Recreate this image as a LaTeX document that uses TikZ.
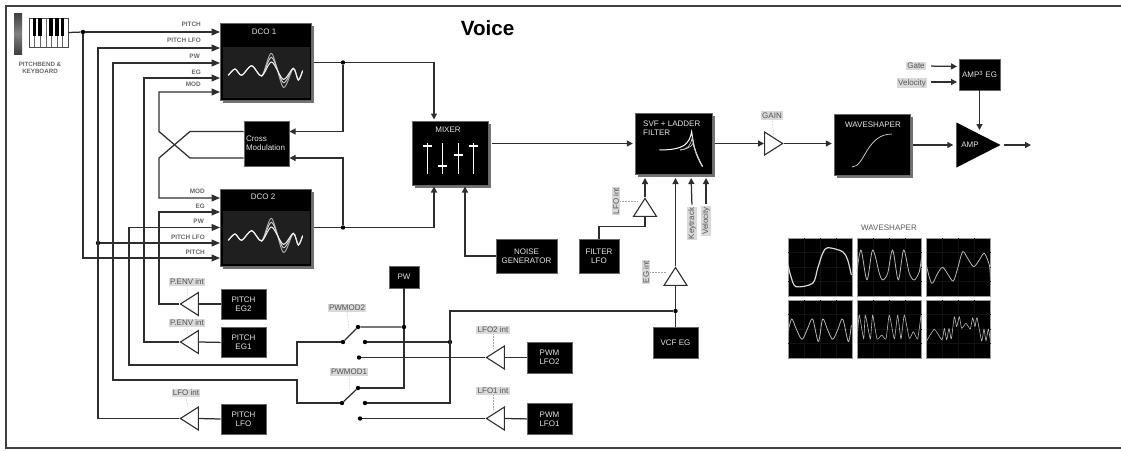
\documentclass[tikz,border=0pt]{standalone}
\usepackage{fontspec}
\setmainfont{Liberation Sans}
\usepackage{xcolor}
\usetikzlibrary{shapes.geometric, arrows.meta, positioning, shadows}
\definecolor{wirecol}{gray}{0.18}
\definecolor{tagcol}{gray}{0.85}
\definecolor{tagtext}{gray}{0.33}
\newcommand{\blockfont}{\fontsize{8}{9.2}\selectfont}
\tikzstyle{wire} = [line width=1.25pt, draw=wirecol, line join=miter]
\tikzstyle{arrow} = [wire, -{Triangle[length=6pt, width=6pt]}]
\tikzstyle{bigarrow} = [wire, -{Triangle[length=8.5pt, width=7pt]}]
\tikzstyle{leader} = [densely dotted, line width=.5pt, draw=black!35]
\tikzstyle{dot} = [circle, fill=black, inner sep=0pt, minimum size=4.4pt]
\tikzstyle{blackbox} = [fill=black, draw=black!60, line width=.4pt, inner sep=0pt, text=white!90!black, align=center, font=\blockfont]
\tikzstyle{bigbox} = [blackbox, drop shadow={shadow xshift=3pt, shadow yshift=-3pt, fill=black!55, opacity=1}]
\tikzstyle{tag} = [fill=tagcol, text=tagtext, inner sep=1.2pt, font=\fontsize{8}{9}\selectfont]
\tikzstyle{pin} = [text=black!60, inner sep=0pt, anchor=east, font=\fontsize{6.4}{7}\selectfont\bfseries]
\tikzstyle{tri} = [draw=wirecol, fill=white, line width=1.1pt, isosceles triangle, isosceles triangle stretches, inner sep=0pt, minimum width=23pt, minimum height=18pt]
\tikzstyle{scopebox} = [fill=black, draw=black!40, line width=.8pt, inner sep=0pt, minimum width=64pt, minimum height=58pt]
\tikzstyle{trace} = [draw=white!72!black, line width=.8pt, line join=round]
\newcommand{\oscWaves}[1]{%
  \begin{scope}[shift={(0,#1)}, x=0.3333pt, y=-0.3333pt]
    \foreach \pk/\tr/\col in {160/262/white!65!black, 172/248/white!80!black, 186/238/white!95!black}
      \draw [line width=1pt, draw=\col] plot [smooth] coordinates {(685,226) (705,207) (725,226) (755,197) (785,228) (815,\pk) (850,\tr) (880,205) (895,240) (908,212)};
  \end{scope}}

\begin{document}
\begin{tikzpicture}[x=1pt, y=-1pt]
\useasboundingbox (0,0) rectangle (1121,450);
\draw [line width=1.1pt, draw=black!75] (1121,6) -- (6,6) -- (6,448) -- (1121,448);

\node (voice) [inner sep=0pt, font=\fontsize{20.6}{22}\selectfont\bfseries] at (487.5,28) {Voice};

% Keyboard
\node (wheel) [top color=black!75, bottom color=black!75, middle color=black!50, inner sep=0pt, minimum width=8pt, minimum height=41pt] at (18,33.5) {};
\node (keys) [draw=black!70, fill=white, line width=.6pt, inner sep=0pt, minimum width=39pt, minimum height=29pt] at (48.5,32.5) {};
\foreach \i in {1,...,6}
  \draw [line width=.4pt, draw=black!60] (29+5.57*\i,18) -- (29+5.57*\i,47);
\foreach \i in {1,2,4,5,6}
  \fill [black] (29+5.57*\i-1.9,18) rectangle (29+5.57*\i+1.9,36);
\node (keysLabel) [align=center, inner sep=0pt, text=black!60, font=\fontsize{6.2}{7.6}\selectfont\bfseries] at (40,68) {PITCHBEND \&\\KEYBOARD};

% Oscillators
\node (dcoOne) [bigbox, minimum width=91pt, minimum height=77pt] at (265.5,61.5) {};
\node (dcoTwo) [bigbox, minimum width=91pt, minimum height=77pt] at (265.5,227.5) {};
\fill [black!88] (223,47) rectangle (310,98);
\fill [black!88] (223,211) rectangle (310,264);
\node (dcoOneName) [text=white!90!black, inner sep=0pt, font=\blockfont] at (264,32) {DCO 1};
\node (dcoTwoName) [text=white!90!black, inner sep=0pt, font=\blockfont] at (263,197) {DCO 2};
\oscWaves{0}
\oscWaves{165}

\node (crossMod) [blackbox, align=left, minimum width=45.5pt, minimum height=45pt, text width=41pt] at (266.5,143.5) {Cross\\Modulation};

% Mixer
\node (mixer) [bigbox, minimum width=76pt, minimum height=64pt] at (450,153) {};
\node (mixerName) [text=white!90!black, inner sep=0pt, font=\blockfont] at (448,130) {MIXER};
\foreach \x/\k in {427/146, 442/166, 458/155, 473/146} {
  \draw [white, line width=.8pt] (\x,143) -- (\x,174);
  \draw [white, line width=1.1pt] (\x-4.5,\k) -- (\x+4.5,\k);
}

% Filter and output stage
\node (filter) [bigbox, minimum width=77pt, minimum height=61pt] at (673.5,143.5) {};
\node (filterName) [text=white!90!black, align=left, inner sep=0pt, anchor=north west, font=\blockfont] at (643,120.5) {SVF + LADDER\\FILTER};
\begin{scope}[shift={(560,100)}, x=0.3333pt, y=-0.3333pt]
  \draw [white, line width=1pt] (298,150) .. controls (375,150) and (388,130) .. (395,95) .. controls (400,130) and (405,165) .. (428,200);
  \draw [white!80!black, line width=.7pt] (360,150) .. controls (385,148) and (392,135) .. (397,112) .. controls (400,140) and (410,165) .. (428,200);
  \draw [white!80!black, line width=.7pt] (360,150) .. controls (380,148) and (395,140) .. (399,130) .. controls (402,145) and (412,170) .. (428,200);
\end{scope}
\node (waveShaper) [bigbox, minimum width=76pt, minimum height=61pt] at (872,144.5) {};
\node (waveShaperName) [text=white!90!black, inner sep=0pt, font=\blockfont] at (873,125) {WAVESHAPER};
\draw [white!85!black, line width=.7pt] (852,167) .. controls (865,167) and (866,134) .. (892,134);
\node (amp) [isosceles triangle, isosceles triangle stretches, fill=black, inner sep=0pt, minimum width=45pt, minimum height=44pt, text=white!90!black, font=\blockfont, anchor=apex] at (1001,145) {};
\node (ampName) [text=white!90!black, inner sep=0pt, font=\blockfont] at (970,145) {AMP};
\node (ampEg) [blackbox, minimum width=41pt, minimum height=31pt] at (979.5,74.5) {AMP\textsuperscript{3} EG};
\coordinate (ampTop) at (979.5,130);
\coordinate (ampOut) at (1031,145);

\node (noiseGen) [blackbox, minimum width=61pt, minimum height=34pt] at (526.5,256) {NOISE\\GENERATOR};
\node (filterLfo) [blackbox, minimum width=40pt, minimum height=34pt] at (599,256) {FILTER\\LFO};
\node (vcfEg) [blackbox, minimum width=45pt, minimum height=31pt] at (675.5,342.5) {VCF EG};
\node (pwBox) [blackbox, minimum width=30pt, minimum height=22pt] at (404,277) {PW};

% Modulation sources
\node (pitchEgTwo) [blackbox, minimum width=45.5pt, minimum height=30pt] at (243.5,304) {PITCH\\EG2};
\node (pitchEgOne) [blackbox, minimum width=45.5pt, minimum height=30pt, below=8pt of pitchEgTwo] {PITCH\\EG1};
\node (pitchLfo) [blackbox, minimum width=45.5pt, minimum height=30pt] at (243.5,419) {PITCH\\LFO};
\node (pwmLfoTwo) [blackbox, minimum width=45pt, minimum height=31pt] at (549.5,357.5) {PWM\\LFO2};
\node (pwmLfoOne) [blackbox, minimum width=45pt, minimum height=31pt, below=30pt of pwmLfoTwo] {PWM\\LFO1};

% Amounts
\node (triEgTwo) [tri, shape border rotate=180, anchor=apex] at (179,304) {};
\node (triEgOne) [tri, shape border rotate=180, anchor=apex] at (179,342) {};
\node (triLfo) [tri, shape border rotate=180, anchor=apex] at (179,418.5) {};
\node (triPwmTwo) [tri, shape border rotate=180, anchor=apex] at (485,357.5) {};
\node (triPwmOne) [tri, shape border rotate=180, anchor=apex] at (485,418.5) {};
\node (triFilter) [tri, shape border rotate=90, anchor=apex] at (645,197) {};
\node (triVcf) [tri, shape border rotate=90, anchor=apex] at (675.5,266) {};
\node (triGain) [tri, anchor=apex] at (784,143.5) {};

\node (tagEgTwo) [tag] at (187,282) {P.ENV int};
\node (tagEgOne) [tag] at (187,323) {P.ENV int};
\node (tagLfo) [tag] at (186,393) {LFO int};
\node (tagPwmTwo) [tag] at (493,330) {LFO2 int};
\node (tagPwmOne) [tag] at (493,391) {LFO1 int};
\node (tagFilter) [tag, rotate=90] at (616,201) {LFO int};
\node (tagVcf) [tag, rotate=90] at (646,272) {EG int};
\node (tagGain) [tag] at (772,115.5) {GAIN};
\node (tagKey) [tag, rotate=90] at (692,223.5) {Keytrack};
\node (tagVel) [tag, rotate=90] at (706,221) {Velocity};
\node (tagGate) [tag] at (916,66) {Gate};
\node (tagVelAmp) [tag] at (912,83) {Velocity};
\node (tagSwTwo) [tag] at (347,308) {PWMOD2};
\node (tagSwOne) [tag] at (349,372) {PWMOD1};

\draw [leader] (tagEgTwo.south) -- ++(1,11);
\draw [leader] (tagEgOne.south) -- ++(1,8);
\draw [leader] (tagLfo.south) -- ++(2,10);
\draw [leader] (tagPwmTwo.south) -- ++(0,14);
\draw [leader] (tagPwmOne.south) -- ++(0,14);
\draw [leader] (tagFilter.south) -- ++(18,0);
\draw [leader] (tagVcf.south) -- ++(16,0);
\draw [leader] (tagGain.south) -- ++(2,16);
\draw [leader] (tagSwTwo.south) -- ++(2,16);
\draw [leader] (tagSwOne.south) -- ++(1,15);

% Pin names
\node (pinA) [pin] at (201,24) {PITCH};
\node (pinB) [pin] at (201,40) {PITCH LFO};
\node (pinC) [pin] at (200,56) {PW};
\node (pinD) [pin] at (201,72) {EG};
\node (pinE) [pin] at (201,84) {MOD};
\node (pinF) [pin] at (205,191) {MOD};
\node (pinG) [pin] at (205,206) {EG};
\node (pinH) [pin] at (204,221) {PW};
\node (pinI) [pin] at (205,237) {PITCH LFO};
\node (pinJ) [pin] at (205,252) {PITCH};

% Ports
\coordinate (onePitch) at (220,32);
\coordinate (oneLfo) at (220,48);
\coordinate (onePw) at (220,63);
\coordinate (oneEg) at (220,78);
\coordinate (oneMod) at (220,92);
\coordinate (twoMod) at (220,198);
\coordinate (twoEg) at (220,212);
\coordinate (twoPw) at (220,227.5);
\coordinate (twoLfo) at (220,243);
\coordinate (twoPitch) at (220,258);
\coordinate (crossUpW) at (243.5,131.5);
\coordinate (crossLowW) at (243.5,158);
\coordinate (crossUpE) at (289.5,131.5);
\coordinate (crossLowE) at (289.5,158);
\coordinate (mixTop) at (434,121);
\coordinate (mixLow) at (434,185);
\coordinate (mixNoise) at (465,185);
\coordinate (mixOut) at (488,143.5);
\coordinate (filtA) at (645,174);
\coordinate (filtB) at (675.5,174);
\coordinate (filtC) at (691,174);
\coordinate (filtD) at (706,174);
\coordinate (egGate) at (959,66.5);
\coordinate (egVel) at (959,82);

% Junctions and switch contacts
\node (jPitch) [dot] at (83,32) {};
\node (jLfo) [dot] at (98,243) {};
\node (jOne) [dot] at (343,62.5) {};
\node (jTwo) [dot] at (343,227.5) {};
\node (jPw) [dot] at (404,327) {};
\node (jMid) [dot] at (450,342) {};
\node (jVcf) [dot] at (675.5,311) {};
\foreach \n/\x/\y in {swTwoIn/343/342, swTwoUp/358/327, swTwoMid/365/342, swTwoLow/359/357.5, swOneIn/342/403, swOneUp/358/388, swOneMid/365/403, swOneLow/360/418.5}
  \node (\n) [dot] at (\x,\y) {};

% Pitch and modulation wiring
\draw [wire] (keys.east) -- (jPitch);
\draw [bigarrow] (jPitch) -- (onePitch);
\draw [bigarrow] (jPitch) |- (twoPitch);
\draw [bigarrow] (triLfo.apex) -| (98,48) -- (oneLfo);
\draw [bigarrow] (jLfo) -- (twoLfo);
\draw [bigarrow] (swOneIn) -| (297,380) -| (113,63) -- (onePw);
\draw [bigarrow] (swTwoIn) -| (297,365) -| (129,227.5) -- (twoPw);
\draw [bigarrow] (triEgOne.apex) -| (144,78) -- (oneEg);
\draw [bigarrow] (triEgTwo.apex) -| (159,212) -- (twoEg);
\draw [bigarrow] (crossLowW) -- (190,158) -- (159,131.5) |- (oneMod);
\draw [bigarrow] (crossUpW) -- (190,131.5) -- (159,158) |- (twoMod);
\draw [wire] (pitchEgTwo.west) -- (triEgTwo.lower side);
\draw [wire] (pitchEgOne.west) -- (triEgOne.lower side);
\draw [wire] (pitchLfo.west) -- (triLfo.lower side);

% Audio path
\draw [wire, shorten <=3pt] (dcoOne.east |- jOne) -- (jOne);
\draw [wire, shorten <=3pt] (dcoTwo.east |- jTwo) -- (jTwo);
\draw [arrow, shorten >=1.5pt] (jOne) -| (mixTop);
\draw [arrow, shorten >=1.5pt] (jTwo) -| (mixLow);
\draw [arrow] (jOne) |- (crossUpE);
\draw [arrow] (jTwo) |- (crossLowE);
\draw [arrow, shorten >=1.5pt] (noiseGen.west) -| (mixNoise);
\draw [arrow, shorten <=4pt, shorten >=2pt] (mixOut) -- (filter.west |- mixOut);
\draw [arrow, shorten <=3pt] (filter.east) -- (triGain.lower side);
\draw [arrow, shorten >=2pt] (triGain.apex) -- (waveShaper.west |- triGain.apex);
\draw [arrow, shorten <=3pt, shorten >=3pt] (waveShaper.east |- amp.lower side) -- (amp.lower side);
\draw [arrow, shorten <=3pt] (amp.apex) -- (ampOut);
\draw [arrow] (ampEg.south) -- (ampTop);
\draw [arrow, shorten <=5pt, shorten >=2pt] (tagGate.east) -- (egGate);
\draw [arrow, shorten <=4pt, shorten >=2pt] (tagVelAmp.east |- egVel) -- (egVel);

% Filter modulation
\draw [wire] (filterLfo.north) -- ++(0,-12.5) -| (triFilter.lower side);
\draw [arrow, shorten >=4pt] (triFilter.apex) -- (filtA);
\draw [wire] (vcfEg.north) -- (jVcf);
\draw [wire] (jVcf) -- (triVcf.lower side);
\draw [arrow, shorten >=4pt] (triVcf.apex) -- (filtB);
\draw [arrow, shorten <=2pt, shorten >=4pt] (tagKey.east) -- (filtC);
\draw [arrow, shorten <=2pt, shorten >=4pt] (tagVel.east) -- (filtD);

% Switches
\draw [wire] (swTwoIn) -- (swTwoUp) -- (jPw);
\draw [wire] (swOneIn) -- (swOneUp);
\draw [wire] (pwBox.south) -- (jPw) |- (swOneUp);
\draw [wire] (swTwoMid) -- (jMid);
\draw [wire] (jVcf) -| (450,403) -- (swOneMid);
\draw [wire] (swTwoLow) -- (triPwmTwo.apex);
\draw [wire] (swOneLow) -- (triPwmOne.apex);
\draw [wire] (pwmLfoTwo.west) -- (triPwmTwo.lower side);
\draw [wire] (pwmLfoOne.west) -- (triPwmOne.lower side);

% Waveshaper shapes
\node (shapesName) [inner sep=0pt, text=black!65, font=\blockfont] at (889,228) {WAVESHAPER};
\foreach \n/\x/\y in {shapeA/820/267, shapeB/889.5/267, shapeC/958.5/267, shapeD/820/329, shapeE/889.5/329, shapeF/958.5/329}
  \node (\n) [scopebox] at (\x,\y) {};
\foreach \x in {820,889.5,958.5} \foreach \y in {267,329} {
  \draw [black!93!white, line width=.3pt] (\x-16,\y-29) -- (\x-16,\y+29) (\x,\y-29) -- (\x,\y+29) (\x+16,\y-29) -- (\x+16,\y+29) (\x-32,\y-14.5) -- (\x+32,\y-14.5) (\x-32,\y) -- (\x+32,\y) (\x-32,\y+14.5) -- (\x+32,\y+14.5);
}
\begin{scope}[shift={(741,215)}, x=0.3333pt, y=-0.3333pt]
  \draw [trace, line width=1.2pt, draw=white!85!black] plot [smooth, tension=.5] coordinates {(141,150) (150,185) (165,215) (215,205) (230,160) (245,115) (260,98) (305,110) (320,135) (331,180)};
  \draw [trace] plot [smooth] coordinates {(348,170) (360,105) (378,195) (395,105) (415,175) (425,195) (440,175) (455,105) (472,195) (488,105) (505,175) (520,195) (535,170) (541,130)};
  \draw [trace] plot [smooth] coordinates {(556,150) (572,205) (590,175) (605,157) (622,180) (637,198) (650,160) (665,110) (680,130) (698,155) (715,135) (730,115) (745,150) (748,185)};
  \draw [trace] plot [smooth] coordinates {(141,350) (152,312) (165,340) (183,373) (200,340) (215,312) (232,380) (245,312) (260,345) (275,373) (290,345) (305,312) (322,380) (331,330)};
  \draw [trace, line width=.6pt] plot [smooth, tension=.3] coordinates {(350,350) (355,300) (368,372) (373,300) (388,372) (395,300) (408,372) (422,360) (435,372) (445,300) (460,372) (470,300) (480,372) (490,300) (505,370) (517,350) (530,372) (540,300)};
  \draw [trace, line width=.6pt] plot [smooth, tension=.3] coordinates {(557,378) (580,343) (603,375) (610,340) (617,375) (624,340) (631,372) (640,305) (647,335) (655,305) (662,340) (675,325) (688,342) (695,308) (702,335) (708,308) (722,378) (729,342) (735,378) (742,342) (748,375)};
\end{scope}
\end{tikzpicture}
\end{document}
